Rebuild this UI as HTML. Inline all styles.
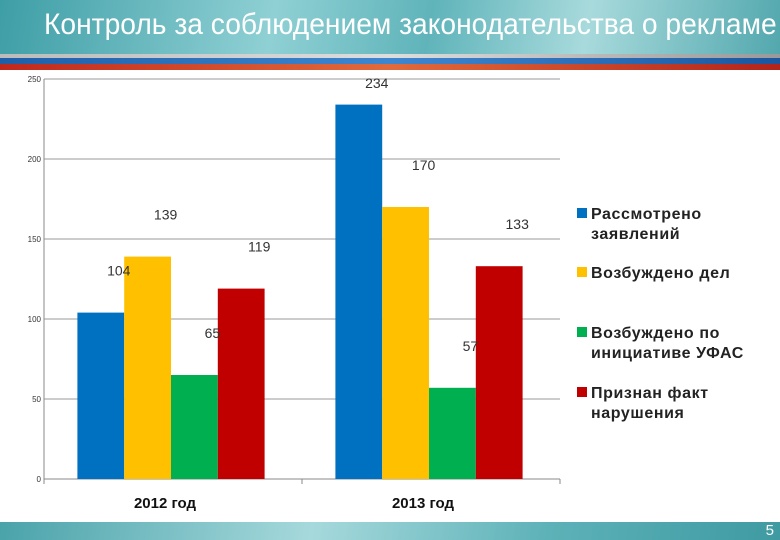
<!DOCTYPE html>
<html><head><meta charset="utf-8"><style>
body{margin:0;width:780px;height:540px;overflow:hidden;background:#fff;font-family:"Liberation Sans",sans-serif}
#hdr{position:absolute;left:0;top:0;width:780px;height:54px;background:linear-gradient(100deg,#3e9ea6,#8fd0d4 35%,#5fb4ba 55%,#a8dadc 75%,#52a8ae)}
#title{position:absolute;left:44px;top:8px;color:#fff;font-size:30px;white-space:nowrap;transform:scaleX(0.94);transform-origin:left top}
.s{position:absolute;left:0;width:780px}
#ftr{position:absolute;left:0;top:522px;width:780px;height:18px;background:linear-gradient(100deg,#4aa3aa,#a6d9dc 40%,#5db2b8 70%,#3f9aa2)}
.leg{position:absolute;left:591px;font-size:16px;font-weight:bold;color:#222;line-height:20px;letter-spacing:0.6px}
.sq{position:absolute;left:577px;width:10px;height:10px}
</style></head><body>
<div id="hdr"><div id="title">Контроль за соблюдением законодательства о рекламе</div></div>
<div class="s" style="top:54px;height:4px;background:linear-gradient(90deg,#bbb,#ddd,#999)"></div>
<div class="s" style="top:58px;height:6px;background:linear-gradient(90deg,#1e5fa8,#3d87d0,#1b56a0)"></div>
<div class="s" style="top:64px;height:6px;background:linear-gradient(90deg,#c0281c,#e26a3a,#b3231a)"></div>
<svg id="c" width="780" height="540" style="position:absolute;left:0;top:0"></svg>
<div class="sq" style="top:208px;background:#0070c0"></div>
<div class="leg" style="top:205px">Рассмотрено<br>заявлений</div>
<div class="sq" style="top:267px;background:#ffc000"></div>
<div class="leg" style="top:264px">Возбуждено дел</div>
<div class="sq" style="top:327px;background:#00b050"></div>
<div class="leg" style="top:324px">Возбуждено по<br>инициативе УФАС</div>
<div class="sq" style="top:387px;background:#c00000"></div>
<div class="leg" style="top:384px">Признан факт<br>нарушения</div>
<div id="ftr"><span style="position:absolute;right:6px;top:0;color:#fff;font-size:15px">5</span></div>
<script>
const categories=["2012 год","2013 год"];
const reviewed=[104,234];
const cases=[139,170];
const initiative=[65,57];
const violation=[119,133];
const yTicks=[0,50,100,150,200,250];
const series=[reviewed,cases,initiative,violation];
const colors=["#0070c0","#ffc000","#00b050","#c00000"];
const svg=document.getElementById('c');const NS="http://www.w3.org/2000/svg";
const x0=44,x1=560,yb=479,yt=79,ymax=250;
const y=v=>yb-(yb-yt)*v/ymax;
const catW=(x1-x0)/categories.length,bw=46.8;
function mk(t,a,txt){const e=document.createElementNS(NS,t);for(const k in a)e.setAttribute(k,a[k]);if(txt!=null)e.textContent=txt;svg.appendChild(e);return e;}
yTicks.forEach(t=>{
 if(t>0){const g=mk('line',{x1:x0,x2:x1,y1:y(t),y2:y(t),stroke:'#999','stroke-width':1});
 
 }
 const l=mk('text',{x:x0-3,y:y(t)+3,'font-size':8,'text-anchor':'end',fill:'#333'},t);
 
 
});
const ax=mk('line',{x1:x0,x2:x0,y1:yt,y2:yb,stroke:'#888'});


const xa=mk('line',{x1:x0,x2:x1,y1:yb,y2:yb,stroke:'#888'});


[0,1,2].forEach(i=>{mk('line',{x1:x0+i*catW,x2:x0+i*catW,y1:yb,y2:yb+5,stroke:'#888'});});
const labels=[];
categories.forEach((c,ci)=>{
 const cx=x0+catW*(ci+0.5);
 const lab=mk('text',{x:cx-8,y:508,'font-size':15,'font-weight':'bold','text-anchor':'middle',fill:'#111'},c);
 
 
 series.forEach((s,si)=>{
  const bx=cx-2*bw+si*bw-2;
  const r=mk('rect',{x:bx,y:y(s[ci]),width:bw,height:yb-y(s[ci]),fill:colors[si]});
  
  
  labels.push([bx+bw/2+18,Math.max(88,y(s[ci])-37),s[ci],ci,si]);
 });
});
labels.forEach(L=>{
  const t=mk('text',{x:L[0],y:L[1],'font-size':14,'text-anchor':'middle',fill:'#333'},L[2]);
  
  
});
</script>
</body></html>
